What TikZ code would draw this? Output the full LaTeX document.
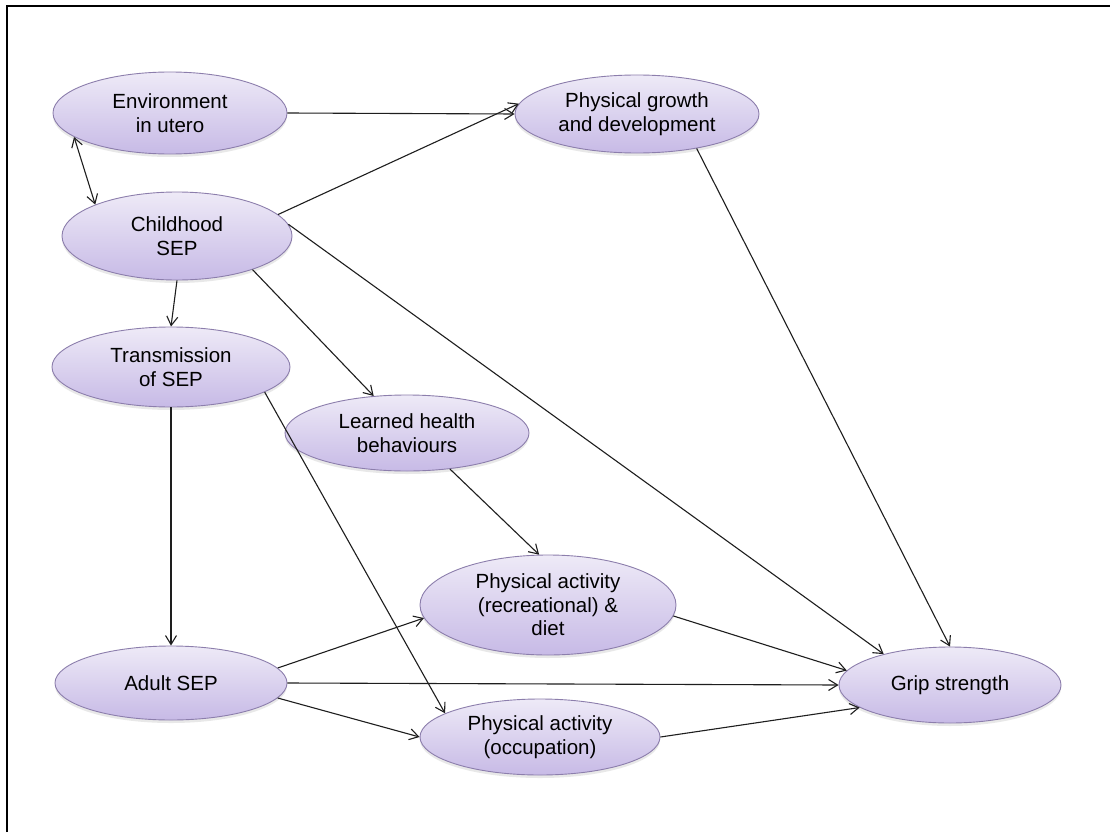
\documentclass[tikz,border=0pt]{standalone}
\usepackage{fontspec}
\setmainfont{Liberation Sans}
\usetikzlibrary{shapes.geometric,arrows.meta,shadows}
\definecolor{elltop}{RGB}{238,234,247}
\definecolor{ellbot}{RGB}{199,186,230}
\definecolor{elledge}{RGB}{140,126,172}
\definecolor{lnk}{RGB}{30,30,30}
\tikzset{
  factor/.style={ellipse, draw=elledge, line width=0.9pt, inner sep=0pt,
    top color=elltop, bottom color=ellbot, align=center,
    font=\fontsize{20.5}{23.5}\selectfont, text=black,
    drop shadow={shadow xshift=0pt, shadow yshift=-3pt, fill=black!25, opacity=0.35}},
  link/.style={draw=lnk, line width=1.1pt, -{Straight Barb[length=9pt,width=11pt]}},
  dlink/.style={draw=lnk, line width=1.1pt, {Straight Barb[length=9pt,width=11pt]}-{Straight Barb[length=9pt,width=11pt]}}
}
\begin{document}
\begin{tikzpicture}[x=1pt,y=-1pt]
  \useasboundingbox (0,0) rectangle (1110,832);
  \fill[white] (0,0) rectangle (1110,832);
  % frame
  \draw[line width=2.2pt] (7,832) -- (7,6) -- (1110,6);

  % factors
  \node[factor, minimum width=234pt, minimum height=82pt] (env) at (170,113) {Environment\\in utero};
  \node[factor, minimum width=230pt, minimum height=88pt] (child) at (177,236) {Childhood\\SEP};
  \node[factor, minimum width=244pt, minimum height=78pt] (growth) at (637,114) {Physical growth\\and development};
  \node[factor, minimum width=238pt, minimum height=80pt] (trans) at (171,367) {Transmission\\of SEP};
  \node[factor, minimum width=244pt, minimum height=76pt] (learn) at (407,433) {Learned health\\behaviours};
  \node[factor, minimum width=256pt, minimum height=100pt] (parec) at (548,605) {Physical activity\\(recreational) \&\\diet};
  \node[factor, minimum width=232pt, minimum height=74pt] (adult) at (171,683) {Adult SEP};
  \node[factor, minimum width=240pt, minimum height=76pt] (paocc) at (540,737) {Physical activity\\(occupation)};
  \node[factor, minimum width=222pt, minimum height=76pt] (grip) at (950,685) {Grip strength};

  % pathways
  \draw[link] (env.east) -- (growth.west);
  \draw[dlink] (env.194) -- (child.159);
  \draw[link] (child.12) -- (growth.175);
  \draw[link] (child.south) -- (trans.north);
  \draw[link] (child.-24) -- (learn.132);
  \draw[link] (child.6) -- (grip.155);
  \draw[link] (growth.-30) -- (grip.90);
  \draw[link] (trans.south) -- (adult.north);
  \draw[link] (trans.-15) -- (paocc.166);
  \draw[link] (learn.-40) -- (parec.100);
  \draw[link] (parec.-5) -- (grip.172);
  \draw[link] (adult.8) -- (parec.186);
  \draw[link] (adult.0) -- (grip.180);
  \draw[link] (adult.-8) -- (paocc.west);
  \draw[link] (paocc.east) -- (grip.194);
\end{tikzpicture}
\end{document}
